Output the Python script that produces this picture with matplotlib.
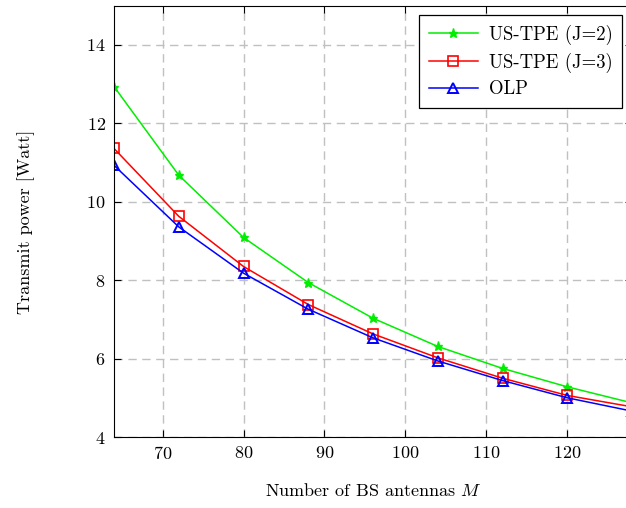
import matplotlib
matplotlib.use("Agg")
import matplotlib.pyplot as plt

plt.rcParams['font.family'] = 'serif'
plt.rcParams['font.serif'] = ['cmr10', 'DejaVu Serif']
plt.rcParams['mathtext.fontset'] = 'cm'
plt.rcParams['axes.formatter.use_mathtext'] = True

M = [64, 72, 80, 88, 96, 104, 112, 120, 128]
us_tpe_j2 = [12.94, 10.68, 9.09, 7.94, 7.03, 6.31, 5.75, 5.28, 4.87]
us_tpe_j3 = [11.36, 9.63, 8.35, 7.38, 6.63, 6.02, 5.50, 5.06, 4.77]
olp = [10.93, 9.36, 8.18, 7.26, 6.53, 5.94, 5.44, 5.00, 4.66]
yticks = [4, 6, 8, 10, 12, 14]
xticks = [70, 80, 90, 100, 110, 120]

fig = plt.figure(figsize=(6.26, 5.08), dpi=100)
ax = fig.add_axes([114/626, 71/508, (632-114)/626, (437-5.8)/508])

ax.plot(M, us_tpe_j2, color='#00ee00', marker='*', markersize=6.5, lw=1.1, label='US-TPE (J=2)')
ax.plot(M, us_tpe_j3, color='#ff0000', marker='s', markersize=7, fillstyle='none', mew=1.2, lw=1.1, label='US-TPE (J=3)')
ax.plot(M, olp, color='#0000ff', marker='^', markersize=7, fillstyle='none', mew=1.4, lw=1.1, label='OLP')

ax.set_xlim(64, 128)
ax.set_ylim(4, 15)
ax.set_xticks(xticks)
ax.set_yticks(yticks)
ax.grid(True, linestyle=(0, (6, 4)), color='#c0c0c0', lw=1.0)
ax.tick_params(direction='in', labelsize=13, length=5, top=True, right=True, pad=6)
ax.set_xlabel('Number of BS antennas $M$', fontsize=13, labelpad=14)
ax.set_ylabel('Transmit power [Watt]', fontsize=13, labelpad=37)

leg = ax.legend(loc='upper right', bbox_to_anchor=((622-114)/(632-114), (437-15)/431.2), fontsize=13.5,
                fancybox=False, edgecolor='black', framealpha=1, handlelength=2.6, borderpad=0.5,
                labelspacing=0.42, handletextpad=0.6, borderaxespad=0)
leg.get_frame().set_linewidth(0.9)

fig.savefig('out.png', dpi=100)
